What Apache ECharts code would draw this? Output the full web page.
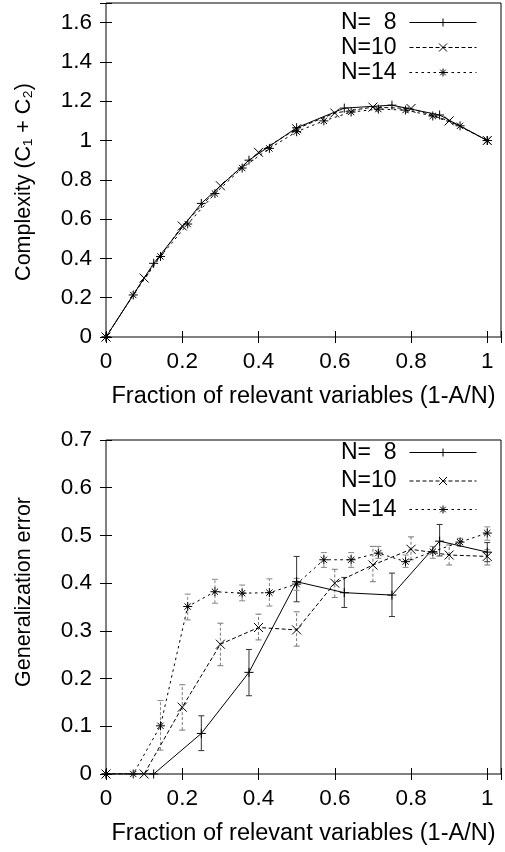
<!DOCTYPE html>
<html>
<head>
<meta charset="utf-8">
<script src="https://cdn.jsdelivr.net/npm/echarts@6/dist/echarts.min.js"></script>
<style>html,body{margin:0;padding:0;background:#fff}#chart{width:505px;height:852px}</style>
</head>
<body>
<div id="chart"></div>
<script>
// fractions of relevant variables, k/N
var x8 = [0, 0.125, 0.25, 0.375, 0.5, 0.625, 0.75, 0.875, 1];
var x10 = [0, 0.1, 0.2, 0.3, 0.4, 0.5, 0.6, 0.7, 0.8, 0.9, 1];
var x14 = [0, 0.0714, 0.1429, 0.2143, 0.2857, 0.3571, 0.4286, 0.5, 0.5714, 0.6429, 0.7143, 0.7857, 0.8571, 0.9286, 1];

// top: complexity C1 + C2
var cx8 = [0, 0.375, 0.68, 0.90, 1.065, 1.165, 1.18, 1.13, 1.0];
var cx10 = [0, 0.30, 0.565, 0.77, 0.94, 1.06, 1.14, 1.17, 1.163, 1.10, 1.0];
var cx14 = [0, 0.214, 0.41, 0.575, 0.73, 0.86, 0.96, 1.045, 1.10, 1.145, 1.16, 1.155, 1.125, 1.075, 1.0];

// bottom: generalization error, with error bar low / high
var ge8 = [0, 0, 0.085, 0.213, 0.403, 0.38, 0.375, 0.488, 0.465];
var ge8Lo = [0, 0, 0.049, 0.164, 0.361, 0.349, 0.33, 0.457, 0.445];
var ge8Hi = [0, 0, 0.122, 0.261, 0.456, 0.412, 0.421, 0.523, 0.485];

var ge10 = [0, 0, 0.14, 0.272, 0.307, 0.302, 0.40, 0.438, 0.471, 0.459, 0.456];
var ge10Lo = [0, 0, 0.092, 0.227, 0.281, 0.268, 0.37, 0.403, 0.449, 0.438, 0.438];
var ge10Hi = [0, 0, 0.187, 0.316, 0.335, 0.34, 0.429, 0.477, 0.497, 0.48, 0.47];

var ge14 = [0, 0, 0.101, 0.351, 0.382, 0.379, 0.38, 0.398, 0.449, 0.449, 0.463, 0.445, 0.466, 0.486, 0.505];
var ge14Lo = [0, 0, 0.05, 0.323, 0.358, 0.363, 0.352, 0.385, 0.433, 0.433, 0.452, 0.433, 0.452, 0.477, 0.49];
var ge14Hi = [0, 0, 0.154, 0.377, 0.408, 0.396, 0.409, 0.41, 0.464, 0.464, 0.477, 0.459, 0.477, 0.494, 0.518];

var names = ['N=  8', 'N=10', 'N=14'];
var xTitle = 'Fraction of relevant variables (1-A/N)';

var FONT = '"Liberation Sans", Arial, sans-serif';
var plus = 'path://M0,5L10,5M5,0L5,10';
var cross = 'path://M0,0L10,10M10,0L0,10';
var star = 'path://M0,5L10,5M5,0L5,10M1.5,1.5L8.5,8.5M8.5,1.5L1.5,8.5';

function zip(xs, ys) {
  return xs.map(function (x, i) { return [x, ys[i]]; });
}
function zip3(xs, lo, hi) {
  var out = [];
  xs.forEach(function (x, i) { if (hi[i] > lo[i]) out.push([x, lo[i], hi[i]]); });
  return out;
}

var styles = [
  { symbol: plus, dash: 'solid', err: '#333', errDash: 'solid' },
  { symbol: cross, dash: [4, 2.5], err: '#777', errDash: [3, 2] },
  { symbol: star, dash: [2.5, 3.5], err: '#888', errDash: [3, 2] }
];

function lineSeries(i, data, axis) {
  var s = styles[i];
  return {
    type: 'line', name: names[i], xAxisIndex: axis, yAxisIndex: axis,
    data: data, symbol: s.symbol, symbolSize: 9, showSymbol: true,
    lineStyle: { color: '#000', width: 1, type: s.dash },
    itemStyle: { color: 'none', borderColor: '#000', borderWidth: 1 },
    emphasis: { disabled: true }, animation: false, z: 3
  };
}

function errSeries(i, data, axis) {
  var s = styles[i];
  return {
    type: 'custom', name: 'err' + i, xAxisIndex: axis, yAxisIndex: axis,
    data: data, animation: false, z: 2,
    encode: { x: 0, y: [1, 2] },
    renderItem: function (params, api) {
      var x = api.value(0);
      var p1 = api.coord([x, api.value(1)]);
      var p2 = api.coord([x, api.value(2)]);
      var st = { stroke: s.err, lineWidth: 1, lineDash: s.errDash === 'solid' ? null : s.errDash };
      return {
        type: 'group', children: [
          { type: 'line', shape: { x1: p1[0], y1: p1[1], x2: p2[0], y2: p2[1] }, style: st },
          { type: 'line', shape: { x1: p1[0] - 3, y1: p1[1], x2: p1[0] + 3, y2: p1[1] }, style: { stroke: s.err, lineWidth: 1 } },
          { type: 'line', shape: { x1: p2[0] - 3, y1: p2[1], x2: p2[0] + 3, y2: p2[1] }, style: { stroke: s.err, lineWidth: 1 } }
        ]
      };
    }
  };
}

function onStep(v, step) {
  var k = v / step;
  return Math.abs(k - Math.round(k)) < 1e-6;
}

function xAxisFor(grid, pos, show) {
  return {
    type: 'value', gridIndex: grid, position: pos, min: 0, max: 1.036, interval: 0.2,
    name: show ? xTitle : '', nameLocation: 'middle', nameGap: 48,
    nameTextStyle: { fontSize: 23.5, color: '#000', fontFamily: FONT },
    axisLine: { show: false },
    axisTick: { show: true, inside: true, length: 6, lineStyle: { color: '#000' } },
    axisLabel: {
      show: show, fontSize: 22.5, color: '#000', fontFamily: FONT, margin: 13,
      formatter: function (v) { return onStep(v, 0.2) ? String(+v.toFixed(2)) : ''; }
    },
    splitLine: { show: false }
  };
}

function yAxisFor(grid, pos, show, max, step, name, pad) {
  return {
    type: 'value', gridIndex: grid, position: pos, min: 0, max: max, interval: step,
    name: show ? name : '', nameLocation: 'middle', nameGap: 71,
    nameTextStyle: { fontSize: 21.5, color: '#000', fontFamily: FONT, padding: pad },
    axisLine: { show: false },
    axisTick: { show: true, inside: true, length: 6, lineStyle: { color: '#000' } },
    axisLabel: {
      show: show, fontSize: 22.5, color: '#000', fontFamily: FONT, margin: 14,
      formatter: function (v) { return onStep(v, step) ? String(+v.toFixed(2)) : ''; }
    },
    splitLine: { show: false }
  };
}

function legendAt(top, gap) {
  return {
    data: names, orient: 'vertical', align: 'right', right: 28, top: top, padding: 0,
    itemWidth: 67, itemHeight: 10, itemGap: gap,
    lineStyle: { width: 1 },
    itemStyle: { borderWidth: 1 },
    textStyle: { fontSize: 23, lineHeight: 22, color: '#000', fontFamily: FONT, padding: [0, 8, 0, 0] },
    selectedMode: false
  };
}

var myChart = echarts.init(document.getElementById('chart'));

var option = {
  backgroundColor: '#fff',
  textStyle: { fontFamily: FONT },
  grid: [
    { left: 106, right: 4, top: 3, height: 334, show: true, borderColor: '#000', borderWidth: 1, backgroundColor: 'transparent' },
    { left: 106, right: 4, top: 440, height: 334, show: true, borderColor: '#000', borderWidth: 1, backgroundColor: 'transparent' }
  ],
  legend: [legendAt(11, 2), legendAt(441, 5.5)],
  xAxis: [xAxisFor(0, 'bottom', true), xAxisFor(1, 'bottom', true), xAxisFor(0, 'top', false), xAxisFor(1, 'top', false)],
  yAxis: [
    yAxisFor(0, 'left', true, 1.7, 0.2, 'Complexity (C\u2081 + C\u2082)', [0, 24, 0, 0]),
    yAxisFor(1, 'left', true, 0.7, 0.1, 'Generalization error', [0, 0, 0, 30]),
    yAxisFor(0, 'right', false, 1.7, 0.2, '', 0),
    yAxisFor(1, 'right', false, 0.7, 0.1, '', 0)
  ],
  series: [
    lineSeries(0, zip(x8, cx8), 0),
    lineSeries(1, zip(x10, cx10), 0),
    lineSeries(2, zip(x14, cx14), 0),
    errSeries(0, zip3(x8, ge8Lo, ge8Hi), 1),
    errSeries(1, zip3(x10, ge10Lo, ge10Hi), 1),
    errSeries(2, zip3(x14, ge14Lo, ge14Hi), 1),
    lineSeries(0, zip(x8, ge8), 1),
    lineSeries(1, zip(x10, ge10), 1),
    lineSeries(2, zip(x14, ge14), 1)
  ]
};

// the top/right mirror axes only carry ticks
option.series.push({ type: 'line', xAxisIndex: 2, yAxisIndex: 2, data: [], silent: true });
option.series.push({ type: 'line', xAxisIndex: 3, yAxisIndex: 3, data: [], silent: true });

myChart.setOption(option);
</script>
</body>
</html>
